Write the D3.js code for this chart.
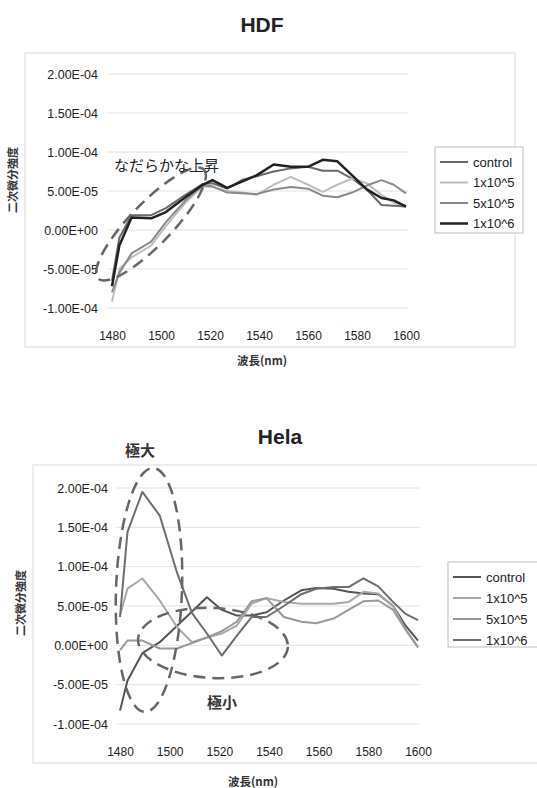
<!DOCTYPE html>
<html>
<head>
<meta charset="utf-8">
<script src="https://cdn.jsdelivr.net/npm/d3@7"></script>
<style>
  body { margin: 0; background: #fff; }
  svg { display: block; font-family: "Liberation Sans", Arial, sans-serif; }
  .jp { font-family: "Noto Sans CJK JP", sans-serif; }
</style>
</head>
<body>
<svg id="fig" width="537" height="788"></svg>
<script>
// series names and tick values
var seriesNames = ["control", "1x10^5", "5x10^5", "1x10^6"]
var xTicks = [1480, 1500, 1520, 1540, 1560, 1580, 1600]
var yTicks = [-1e-4, -5e-5, 0, 5e-5, 1e-4, 1.5e-4, 2e-4]

// HDF
var hdfWave = [1480, 1483, 1488, 1496, 1502, 1510, 1517, 1521, 1527, 1533, 1539, 1546, 1553, 1560, 1566, 1572, 1578, 1584, 1590, 1595, 1600]
var hdfControl = [-6.5e-5, -1.0e-5, 1.9e-5, 1.9e-5, 2.8e-5, 4.5e-5, 5.9e-5, 6.0e-5, 5.3e-5, 6.4e-5, 6.9e-5, 7.5e-5, 7.9e-5, 8.1e-5, 7.6e-5, 7.6e-5, 6.6e-5, 5.2e-5, 3.2e-5, 3.1e-5, 3.0e-5]
var hdf1e5 = [-9.2e-5, -5.0e-5, -3.5e-5, -2.0e-5, 0.5e-5, 3.5e-5, 5.6e-5, 5.5e-5, 5.0e-5, 4.8e-5, 4.5e-5, 5.8e-5, 6.8e-5, 5.8e-5, 4.9e-5, 5.8e-5, 6.6e-5, 6.0e-5, 4.5e-5, 3.5e-5, 3.1e-5]
var hdf5e5 = [-8.0e-5, -5.5e-5, -3.0e-5, -1.5e-5, 1.0e-5, 3.8e-5, 5.7e-5, 5.6e-5, 4.8e-5, 4.7e-5, 4.6e-5, 5.2e-5, 5.5e-5, 5.3e-5, 4.4e-5, 4.2e-5, 4.8e-5, 5.7e-5, 6.4e-5, 5.8e-5, 4.7e-5]
var hdf1e6 = [-7.2e-5, -2.0e-5, 1.6e-5, 1.5e-5, 2.3e-5, 4.2e-5, 5.8e-5, 6.4e-5, 5.4e-5, 6.2e-5, 7.0e-5, 8.4e-5, 8.1e-5, 8.1e-5, 9.0e-5, 8.8e-5, 7.0e-5, 5.2e-5, 4.1e-5, 3.8e-5, 3.0e-5]

// Hela
var helaWave = [1480, 1483, 1489, 1496, 1503, 1509, 1515, 1521, 1527, 1533, 1539, 1546, 1553, 1559, 1566, 1572, 1578, 1584, 1590, 1595, 1600]
var helaControl = [-8.3e-5, -4.5e-5, -1.0e-5, 0.4e-5, 2.5e-5, 4.3e-5, 6.1e-5, 4.5e-5, 3.8e-5, 3.8e-5, 4.2e-5, 5.7e-5, 7.0e-5, 7.3e-5, 7.2e-5, 6.8e-5, 6.6e-5, 6.5e-5, 5.0e-5, 2.5e-5, 0.6e-5]
var hela1e5 = [3.8e-5, 7.2e-5, 8.5e-5, 5.7e-5, 2.3e-5, 0.4e-5, 1.0e-5, 1.5e-5, 2.5e-5, 5.3e-5, 6.0e-5, 5.5e-5, 5.3e-5, 5.3e-5, 5.3e-5, 5.5e-5, 6.8e-5, 6.6e-5, 5.0e-5, 2.0e-5, -0.3e-5]
var hela5e5 = [-0.6e-5, 0.6e-5, 0.6e-5, -0.4e-5, -0.4e-5, 0.3e-5, 1.0e-5, 1.8e-5, 3.0e-5, 5.6e-5, 6.0e-5, 3.6e-5, 3.0e-5, 2.8e-5, 3.4e-5, 4.5e-5, 5.6e-5, 5.7e-5, 4.5e-5, 2.0e-5, -0.2e-5]
var hela1e6 = [3.6e-5, 14.4e-5, 19.5e-5, 16.5e-5, 9.2e-5, 4.1e-5, 1.5e-5, -1.3e-5, 1.2e-5, 3.6e-5, 3.6e-5, 5.0e-5, 6.5e-5, 7.2e-5, 7.4e-5, 7.4e-5, 8.5e-5, 7.5e-5, 5.5e-5, 4.0e-5, 3.2e-5]

var svg = d3.select("#fig")

function fmtE(v) {
    if (v === 0) return "0.00E+00"
    var s = v.toExponential(2).toUpperCase()
    var p = s.split("E")
    var e = p[1]
    var sign = e[0]
    var num = e.slice(1)
    if (num.length < 2) num = "0" + num
    return p[0] + "E" + sign + num
}

function drawChart(c) {
    var g = svg.append("g")

    // outer frame
    g.append("rect")
        .attr("x", c.frame[0]).attr("y", c.frame[1])
        .attr("width", c.frame[2] - c.frame[0]).attr("height", c.frame[3] - c.frame[1])
        .style("fill", "none").style("stroke", "#dcdcdc").style("stroke-width", "1px")

    var x = d3.scaleLinear().domain([1480, 1600]).range(c.xr)
    var y = d3.scaleLinear().domain([-1e-4, 2e-4]).range(c.yr)

    // gridlines
    g.selectAll("line.grid")
        .data(yTicks)
        .join("line")
        .classed("grid", true)
        .attr("x1", c.gridX[0]).attr("x2", c.gridX[1])
        .attr("y1", d => y(d)).attr("y2", d => y(d))
        .style("stroke", "#e2e2e2").style("stroke-width", "1px")

    var yAxis = g.append("g")
        .attr("transform", "translate(" + c.yLabX + ",0)")
        .call(d3.axisLeft(y).tickValues(yTicks).tickSize(0).tickPadding(0).tickFormat(fmtE))
    yAxis.select(".domain").remove()
    yAxis.selectAll("text").style("font-size", "12.5px").style("fill", "#222")

    var xAxis = g.append("g")
        .attr("transform", "translate(0," + c.xLabY + ")")
        .call(d3.axisBottom(x).tickValues(xTicks).tickSize(0).tickPadding(0).tickFormat(d3.format("d")))
    xAxis.select(".domain").remove()
    xAxis.selectAll("text").style("font-size", "12px").style("fill", "#222")

    // titles
    g.append("text")
        .attr("x", c.title[0]).attr("y", c.title[1])
        .attr("text-anchor", "middle")
        .style("font-size", "21px").style("font-weight", "bold").style("fill", "#222")
        .text(c.name)

    g.append("text")
        .classed("jp", true)
        .attr("x", c.xTitle[0]).attr("y", c.xTitle[1])
        .attr("text-anchor", "middle")
        .style("font-size", "11.5px").style("font-weight", "bold").style("fill", "#333")
        .text("波長(nm)")

    g.append("text")
        .classed("jp", true)
        .attr("transform", "translate(" + c.yTitle[0] + "," + c.yTitle[1] + ") rotate(-90)")
        .attr("text-anchor", "middle")
        .style("font-size", "11px").style("font-weight", "bold").style("fill", "#333")
        .text("二次微分強度")

    // lines
    var line = d3.line()
        .x(d => x(d[0]))
        .y(d => y(d[1]))

    var series = c.series.map(function(vals, i) {
        return { name: seriesNames[i], pts: c.wave.map((w, j) => [w, vals[j]]) }
    })

    g.selectAll("path.series")
        .data(series)
        .join("path")
        .classed("series", true)
        .attr("d", d => line(d.pts))
        .style("fill", "none")
        .style("stroke", (d, i) => c.colors[i])
        .style("stroke-width", (d, i) => c.widths[i] + "px")
        .style("stroke-linejoin", "round")

    // legend
    var L = c.legend
    g.append("rect")
        .attr("x", L.x).attr("y", L.y).attr("width", L.w).attr("height", L.h)
        .style("fill", "#fff").style("stroke", "#bdbdbd").style("stroke-width", "1px")

    var items = g.selectAll("g.leg")
        .data(seriesNames)
        .join("g")
        .classed("leg", true)
        .attr("transform", (d, i) => "translate(" + (L.x + 5) + "," + (L.y + 15 + i * L.step) + ")")
    items.append("line")
        .attr("x1", 0).attr("x2", 28).attr("y1", 0).attr("y2", 0)
        .style("stroke", (d, i) => c.colors[i])
        .style("stroke-width", (d, i) => c.widths[i] + "px")
    items.append("text")
        .attr("x", 33).attr("y", 4.5)
        .style("font-size", "13px").style("fill", "#222")
        .text(d => d)

    return { x: x, y: y, g: g }
}

function dashed(g, cx, cy, rx, ry, rot) {
    g.append("ellipse")
        .attr("cx", 0).attr("cy", 0).attr("rx", rx).attr("ry", ry)
        .attr("transform", "translate(" + cx + "," + cy + ") rotate(" + rot + ")")
        .style("fill", "none").style("stroke", "#666")
        .style("stroke-width", "2.5px").style("stroke-dasharray", "12,7")
}

var hdf = drawChart({
    name: "HDF",
    frame: [25, 53, 515, 347],
    xr: [112, 406], yr: [308, 74],
    gridX: [107, 408],
    yLabX: 98, xLabY: 331,
    title: [262, 32],
    xTitle: [262, 365],
    yTitle: [17, 180],
    wave: hdfWave,
    series: [hdfControl, hdf1e5, hdf5e5, hdf1e6],
    colors: ["#6a6a6a", "#bdbdbd", "#8a8a8a", "#222"],
    widths: [2, 2, 2, 2.5],
    legend: { x: 435, y: 147, w: 88, h: 86, step: 20.5 }
})
dashed(hdf.g, 151, 224, 76, 21, -46)
hdf.g.append("text")
    .classed("jp", true)
    .attr("x", 114).attr("y", 171)
    .style("font-size", "15px").style("fill", "#222")
    .text("なだらかな上昇")

var hela = drawChart({
    name: "Hela",
    frame: [33, 465, 545, 763],
    xr: [120, 418], yr: [724, 488],
    gridX: [116, 420],
    yLabX: 108, xLabY: 747,
    title: [280, 444],
    xTitle: [253, 786],
    yTitle: [25, 603],
    wave: helaWave,
    series: [helaControl, hela1e5, hela5e5, hela1e6],
    colors: ["#555", "#a8a8a8", "#999", "#6e6e6e"],
    widths: [2, 2, 2, 2],
    legend: { x: 448, y: 562, w: 100, h: 85, step: 21 }
})
dashed(hela.g, 149, 590, 33, 122, 2)
dashed(hela.g, 213, 643, 75, 35, 3)
hela.g.append("text")
    .classed("jp", true)
    .attr("x", 140).attr("y", 456)
    .attr("text-anchor", "middle")
    .style("font-size", "15px").style("font-weight", "bold").style("fill", "#333")
    .text("極大")
hela.g.append("text")
    .classed("jp", true)
    .attr("x", 222).attr("y", 708)
    .attr("text-anchor", "middle")
    .style("font-size", "15px").style("font-weight", "bold").style("fill", "#333")
    .text("極小")
</script>
</body>
</html>
